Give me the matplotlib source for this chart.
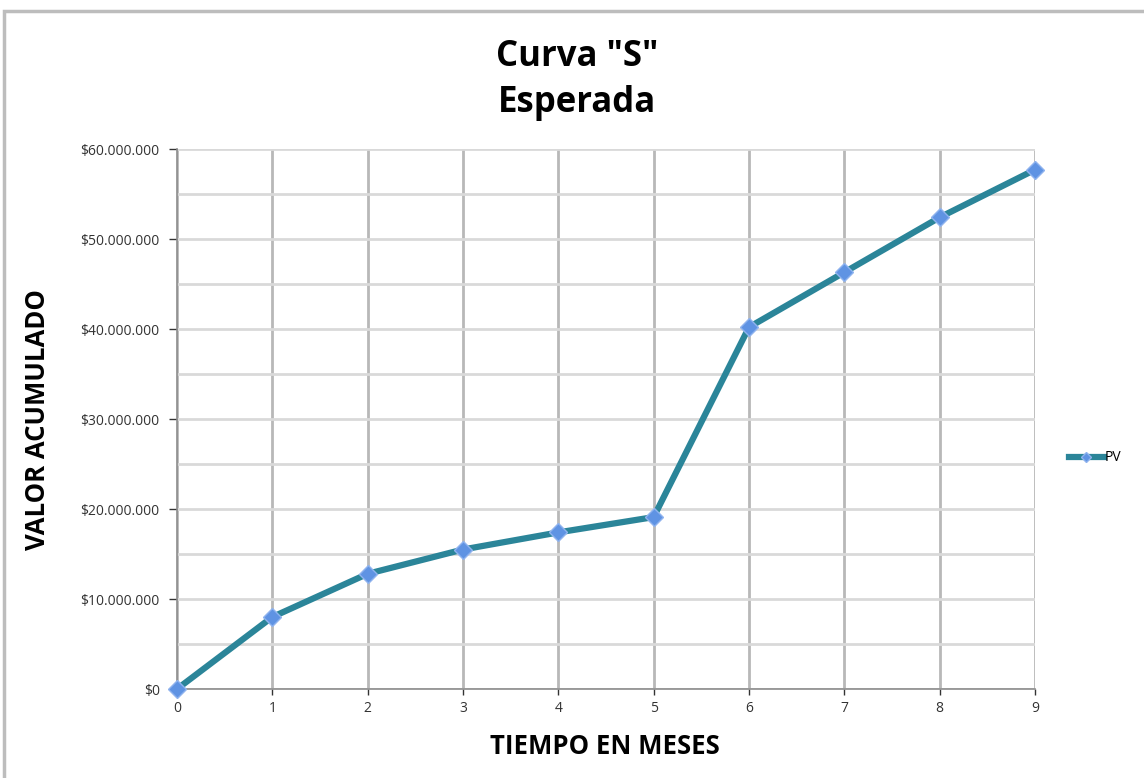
import matplotlib

matplotlib.use("Agg")
import matplotlib.pyplot as plt
from matplotlib.patches import Rectangle
from matplotlib.ticker import FuncFormatter, MultipleLocator

# data
meses = [0, 1, 2, 3, 4, 5, 6, 7, 8, 9]
pv = [0, 8.0e6, 12.8e6, 15.5e6, 17.4e6, 19.1e6, 40.2e6, 46.3e6, 52.4e6, 57.7e6]
serie = "PV"
titulo = 'Curva "S"\nEsperada'
eje_x = "TIEMPO EN MESES"
eje_y = "VALOR ACUMULADO"

plt.rcParams["font.family"] = ["Open Sans", "DejaVu Sans"]

W, H = 1144, 778
fig = plt.figure(figsize=(W / 100, H / 100), dpi=100)
ax = fig.add_axes([177 / W, 1 - 689 / H, (1035 - 177) / W, (689 - 149) / H])

# outer chart frame (only top and left visible in the reference)
fig.patches.append(
    Rectangle((4 / W, -0.1), 1.2, 1.1 - 11 / H, transform=fig.transFigure,
              fill=False, edgecolor="#bdbdbd", linewidth=2.5)
)

ax.plot(meses, pv, color="#2b8599", linewidth=4.5, marker="D", markersize=9,
        markerfacecolor="#5f93e3", markeredgecolor="#8fb3ee", markeredgewidth=1,
        label=serie, zorder=3, clip_on=False)

ax.set_xlim(0, 9)
ax.set_ylim(0, 60e6)
ax.xaxis.set_major_locator(MultipleLocator(1))
ax.yaxis.set_major_locator(MultipleLocator(10e6))
ax.yaxis.set_minor_locator(MultipleLocator(5e6))


def pesos(v, pos):
    if v == 0:
        return "$0"
    return "$" + f"{int(v):,}".replace(",", ".")


ax.yaxis.set_major_formatter(FuncFormatter(pesos))
ax.tick_params(axis="both", labelsize=10, colors="#333333", width=1, direction="out")
ax.tick_params(axis="y", length=5.5, pad=7)
ax.tick_params(axis="y", which="minor", length=0)
ax.tick_params(axis="x", length=4, pad=5)

ax.grid(axis="x", color="#b8b8b8", linewidth=2)
ax.grid(axis="y", which="both", color="#d9d9d9", linewidth=2)
ax.set_axisbelow(True)
for side in ["top", "right"]:
    ax.spines[side].set_visible(False)
for side in ["left", "bottom"]:
    ax.spines[side].set_color("#8c8c8c")
    ax.spines[side].set_linewidth(1.2)

fig.text(577 / W, 1 - 80 / H, titulo, ha="center", va="center", fontsize=25,
         fontweight="bold", linespacing=1.35)
fig.text(605 / W, 1 - 747 / H, eje_x, ha="center", va="center", fontsize=18.5, fontweight="bold")
fig.text(38 / W, 1 - 420 / H, eje_y, ha="center", va="center", rotation=90,
         fontsize=18.5, fontweight="bold")

ax.legend(loc="center left", bbox_to_anchor=(1.025, 0.428), frameon=False, fontsize=10,
          handlelength=2.5, handletextpad=0.1, markerscale=0.6)

fig.savefig("out.png", dpi=100, facecolor="white")
